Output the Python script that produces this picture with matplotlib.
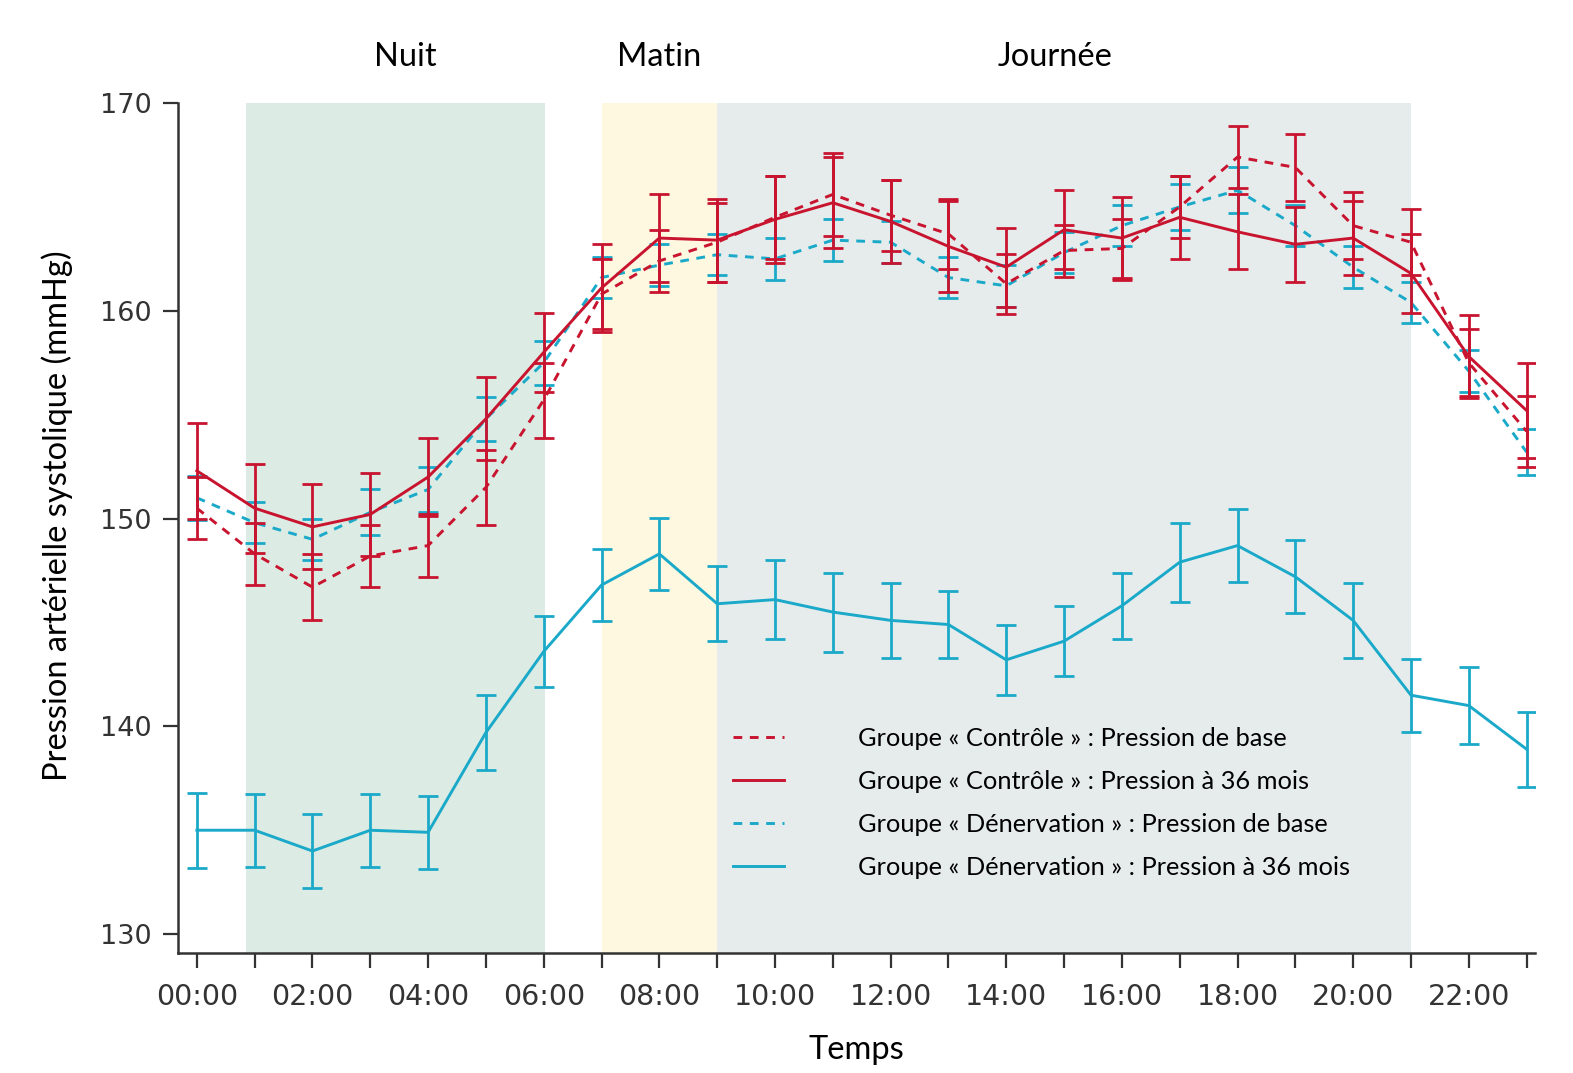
import matplotlib
matplotlib.use("Agg")
import matplotlib.pyplot as plt

# heures 00:00 -> 23:00
heures = list(range(24))

# Groupe « Contrôle »
ctrl_base = [150.5, 148.3, 146.7, 148.2, 148.7, 151.5, 155.7, 160.8, 162.4, 163.3, 164.5, 165.6,
             164.6, 163.7, 161.3, 162.9, 163.0, 165.0, 167.4, 166.9, 164.1, 163.3, 157.5, 154.2]
ctrl_base_err = [1.5, 1.5, 1.6, 1.5, 1.5, 1.8, 1.8, 1.7, 1.5, 1.9, 2.0, 2.0,
                 1.7, 1.7, 1.45, 1.25, 1.4, 1.5, 1.5, 1.6, 1.6, 1.6, 1.6, 1.7]
ctrl_36 = [152.3, 150.5, 149.6, 150.2, 152.0, 154.8, 158.0, 161.1, 163.5, 163.4, 164.4, 165.2,
           164.3, 163.1, 162.1, 163.9, 163.5, 164.5, 163.8, 163.2, 163.5, 161.8, 157.8, 155.2]
ctrl_36_err = [2.3, 2.15, 2.05, 2.0, 1.9, 2.0, 1.9, 2.1, 2.1, 2.0, 2.1, 2.2,
               2.0, 2.2, 1.9, 1.9, 2.0, 2.0, 1.8, 1.8, 1.8, 1.9, 2.0, 2.3]

# Groupe « Dénervation »
den_base = [151.0, 149.8, 149.0, 150.3, 151.4, 154.8, 157.5, 161.6, 162.2, 162.7, 162.5, 163.4,
            163.3, 161.6, 161.2, 162.8, 164.1, 165.0, 165.8, 164.1, 162.1, 160.4, 157.1, 153.2]
den_base_err = [1.05, 1.0, 1.0, 1.1, 1.1, 1.05, 1.05, 1.0, 1.0, 1.0, 1.0, 1.0,
                1.0, 1.0, 1.0, 1.0, 1.0, 1.1, 1.1, 1.0, 1.0, 1.0, 1.0, 1.1]
den_36 = [135.0, 135.0, 134.0, 135.0, 134.9, 139.7, 143.6, 146.8, 148.3, 145.9, 146.1, 145.5,
          145.1, 144.9, 143.2, 144.1, 145.8, 147.9, 148.7, 147.2, 145.1, 141.5, 141.0, 138.9]
den_36_err = [1.8, 1.75, 1.8, 1.75, 1.75, 1.8, 1.7, 1.75, 1.75, 1.8, 1.9, 1.9,
              1.8, 1.6, 1.7, 1.7, 1.6, 1.9, 1.75, 1.75, 1.8, 1.75, 1.85, 1.8]

# périodes de la journée
periodes = ["Nuit", "Matin", "Journée"]
periode_debut = [0.85, 7.0, 9.0]
periode_fin = [6.03, 9.0, 21.0]
periode_label_x = [3.6, 8.0, 14.85]
periode_couleurs = ["#dcebe3", "#fef8e0", "#e6ecec"]

y_ticks = [130, 140, 150, 160, 170]

rouge = "#c8142f"
cyan = "#1ba9c9"
dash = (0, (3, 2.6))

fig = plt.figure(figsize=(15.73, 10.73), dpi=100)
ax = fig.add_axes([0.113, 0.112, 0.863, 0.792])

for deb, fin, c in zip(periode_debut, periode_fin, periode_couleurs):
    ax.axvspan(deb, fin, ymin=0, ymax=1, color=c, lw=0, zorder=0)
for nom, xl in zip(periodes, periode_label_x):
    ax.text(xl, 172.2, nom, ha="center", va="center", fontsize=23.5, family="Lato", color="black")

series = [
    (den_36, den_36_err, cyan, "-", "Groupe « Dénervation » : Pression à 36 mois"),
    (den_base, den_base_err, cyan, dash, "Groupe « Dénervation » : Pression de base"),
    (ctrl_base, ctrl_base_err, rouge, dash, "Groupe « Contrôle » : Pression de base"),
    (ctrl_36, ctrl_36_err, rouge, "-", "Groupe « Contrôle » : Pression à 36 mois"),
]
handles = {}
for i, (y, e, c, ls, lab) in enumerate(series):
    ax.errorbar(heures, y, yerr=e, fmt="none", ecolor=c, elinewidth=2.0,
                capsize=7, capthick=2.0, zorder=2 + i)
    ln, = ax.plot(heures, y, color=c, ls=ls, lw=2.1, zorder=2 + i)
    handles[lab] = ln

ordre = ["Groupe « Contrôle » : Pression de base",
         "Groupe « Contrôle » : Pression à 36 mois",
         "Groupe « Dénervation » : Pression de base",
         "Groupe « Dénervation » : Pression à 36 mois"]
leg = ax.legend([handles[k] for k in ordre], ordre, loc="upper left",
                bbox_to_anchor=(0.409, 0.266), frameon=False,
                prop={"family": "Lato", "size": 18.3}, handlelength=2.0,
                handletextpad=2.9, labelspacing=0.79, borderpad=0, borderaxespad=0)

ax.set_xlim(-0.33, 23.15)
ax.set_ylim(129.1, 170)
ax.set_yticks(y_ticks)
ax.set_yticklabels([str(v) for v in y_ticks], family="DejaVu Sans", fontsize=19.5)
ax.set_xticks(heures)
ax.set_xticklabels(["%02d:00" % h if h % 2 == 0 else "" for h in heures],
                   family="DejaVu Sans", fontsize=20.5)

ax.spines["top"].set_visible(False)
ax.spines["right"].set_visible(False)
for s in ["left", "bottom"]:
    ax.spines[s].set_color("#333333")
    ax.spines[s].set_linewidth(1.8)
ax.tick_params(axis="both", length=11, width=1.6, color="#333333", labelcolor="#333333")
ax.tick_params(axis="x", pad=11)
ax.tick_params(axis="y", pad=8)

ax.set_xlabel("Temps", fontsize=23.5, family="Lato", labelpad=17)
ax.set_ylabel("Pression artérielle systolique (mmHg)", fontsize=23.5, family="Lato")
ax.yaxis.set_label_coords(-0.077, 0.514)

fig.savefig("out.png", dpi=100)
